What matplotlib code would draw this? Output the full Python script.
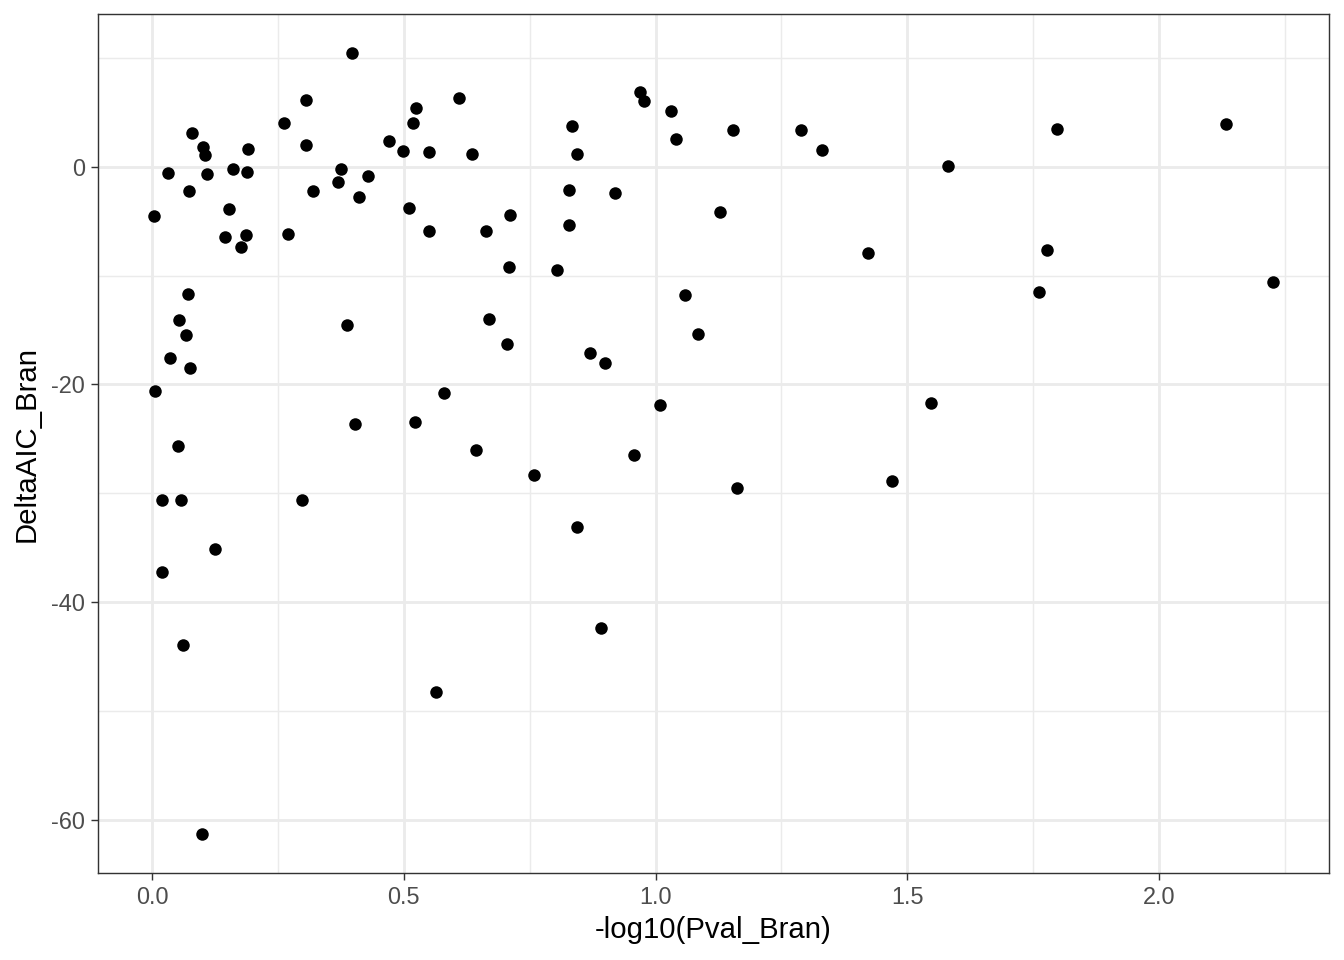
import matplotlib
import numpy as np

matplotlib.use("Agg")
import matplotlib.pyplot as plt
from matplotlib.ticker import MultipleLocator

plt.rcParams["font.family"] = ["Liberation Sans", "DejaVu Sans"]

# -log10(Pval_Bran), DeltaAIC_Bran
pval_bran = [
    0.004, 0.006, 0.020, 0.020, 0.032, 0.036, 0.052, 0.054, 0.058, 0.062,
    0.068, 0.072, 0.074, 0.075, 0.079, 0.099, 0.101, 0.105, 0.109, 0.125,
    0.145, 0.153, 0.161, 0.177, 0.187, 0.191, 0.189, 0.262, 0.270, 0.298,
    0.306, 0.306, 0.320, 0.369, 0.375, 0.387, 0.397, 0.403, 0.411, 0.429,
    0.471, 0.499, 0.510, 0.518, 0.524, 0.522, 0.550, 0.550, 0.564, 0.580,
    0.610, 0.636, 0.644, 0.663, 0.669, 0.705, 0.709, 0.711, 0.759, 0.804,
    0.828, 0.828, 0.834, 0.844, 0.844, 0.870, 0.892, 0.900, 0.919, 0.957,
    0.969, 0.977, 1.009, 1.031, 1.041, 1.059, 1.084, 1.128, 1.154, 1.162,
    1.289, 1.331, 1.422, 1.470, 1.547, 1.581, 1.762, 1.777, 1.797, 2.133,
    2.226,
]
delta_aic = [
    -4.5, -20.6, -30.6, -37.2, -0.6, -17.6, -25.7, -14.1, -30.6, -43.9,
    -15.5, -11.7, -2.2, -18.5, 3.1, -61.3, 1.8, 1.1, -0.7, -35.1,
    -6.5, -3.9, -0.2, -7.4, -6.3, 1.6, -0.5, 4.0, -6.2, -30.6,
    6.1, 2.0, -2.2, -1.4, -0.2, -14.5, 10.4, -23.6, -2.8, -0.9,
    2.4, 1.4, -3.8, 4.0, 5.4, -23.5, 1.3, -5.9, -48.3, -20.8,
    6.3, 1.2, -26.0, -5.9, -14.0, -16.3, -9.2, -4.4, -28.3, -9.5,
    -2.1, -5.4, 3.7, 1.2, -33.1, -17.1, -42.4, -18.0, -2.4, -26.5,
    6.9, 6.0, -21.9, 5.1, 2.5, -11.8, -15.4, -4.2, 3.4, -29.5,
    3.4, 1.5, -7.9, -28.9, -21.7, 0.1, -11.5, -7.7, 3.5, 3.9,
    -10.6,
]

fig = plt.figure(figsize=(7, 5), dpi=192)
ax = fig.add_axes([0.0731, 0.0906, 0.9155, 0.8944])

ax.scatter(pval_bran, delta_aic, s=22, color="black", linewidths=0, zorder=3)

# ggplot-style 5% expansion
x = np.array(pval_bran)
y = np.array(delta_aic)
dx = (x.max() - x.min()) * 0.05
dy = (y.max() - y.min()) * 0.05
ax.set_xlim(x.min() - dx, x.max() + dx)
ax.set_ylim(y.min() - dy, y.max() + dy)

ax.xaxis.set_major_locator(MultipleLocator(0.5))
ax.xaxis.set_minor_locator(MultipleLocator(0.25))
ax.yaxis.set_major_locator(MultipleLocator(20))
ax.yaxis.set_minor_locator(MultipleLocator(10))
ax.xaxis.set_major_formatter(plt.FuncFormatter(lambda v, p: f"{v:.1f}"))
ax.yaxis.set_major_formatter(plt.FuncFormatter(lambda v, p: f"{v:.0f}"))

ax.grid(which="major", color="#EBEBEB", linewidth=1.07, zorder=0)
ax.grid(which="minor", color="#EBEBEB", linewidth=0.53, zorder=0)
ax.set_axisbelow(True)

for s in ax.spines.values():
    s.set_color("#333333")
    s.set_linewidth(0.53)

ax.tick_params(which="major", length=2.75, width=0.53, color="#333333",
               labelcolor="#4D4D4D", labelsize=8.8, pad=2.2)
ax.tick_params(which="minor", length=0)

ax.set_xlabel("-log10(Pval_Bran)", fontsize=11, labelpad=2.5)
ax.set_ylabel("DeltaAIC_Bran", fontsize=11, labelpad=4)

fig.savefig("out.png", dpi=192)
